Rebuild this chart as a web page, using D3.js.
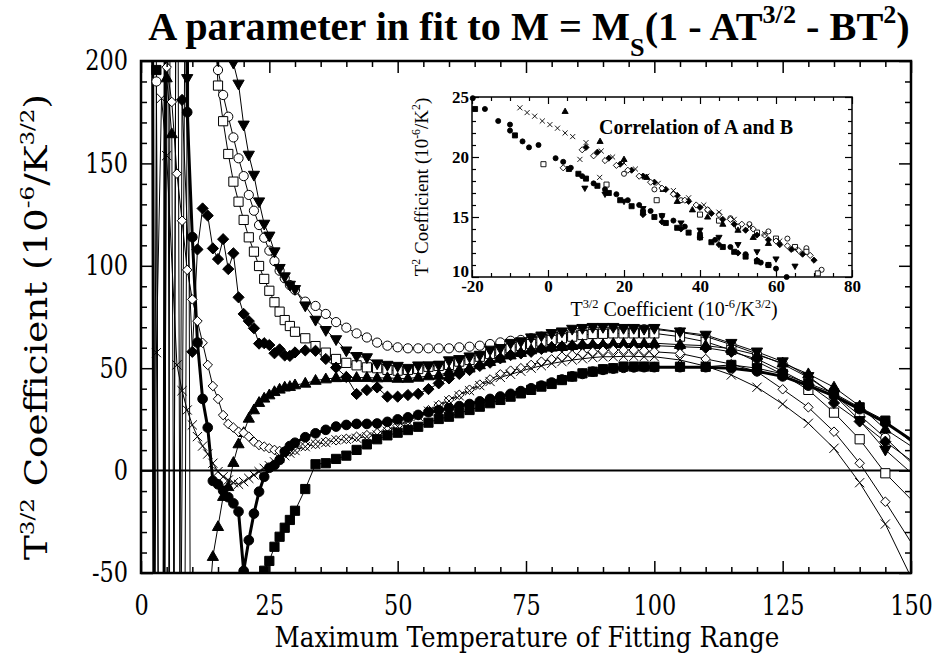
<!DOCTYPE html>
<html>
<head>
<meta charset="utf-8">
<script src="https://cdn.jsdelivr.net/npm/d3@7"></script>
<style>
  body { margin: 0; background: #fff; }
  svg { display: block; }
</style>
</head>
<body>
<svg id="chart" width="936" height="655"></svg>
<script>
// Maximum temperature of the fitting range (K): every 1 K up to 30, every 2 K to 100, every 5 K to 150
const temps = [1,2,3,4,5,6,7,8,9,10,11,12,13,14,15,16,17,18,19,20,21,22,23,24,25,26,27,28,29,30,
  32,34,36,38,40,42,44,46,48,50,52,54,56,58,60,62,64,66,68,70,72,74,76,78,80,82,84,86,88,90,92,94,96,98,100,
  105,110,115,120,125,130,135,140,145,150];

// T^3/2 coefficient A (10^-6 / K^3/2) for each fit series; null = no point
const circlesFilled = [null,500,-600,-700,600,600,600,600,175,114,62.5,35,21,-5,-6.7,-9.8,-13,-16,-20,-49,-34,-21,-10.3,-3,1.4,2.7,5.2,9.2,12,13.6,
  16.3,18.2,19.9,21.5,22.3,22.8,22.8,23,23.8,25,26,27.2,28.5,29.5,30.5,31.5,32.5,33.8,35,36.2,37.5,38.8,40.2,41.5,43,44.5,46,47.2,48.3,49.2,49.8,50.2,50.4,50.5,50.5,
  50.5,50.5,50,48.5,46,41.5,36.5,30,23.5,15];
const squaresFilled = [null,600,195.6,-600,null,null,null,null,null,null,null,null,null,null,null,null,null,null,null,null,null,null,-150,-48.9,-44.1,-37.2,-32.3,-27.9,-24.1,-19.6,
  -9,3.1,3.6,5.7,7.3,10.1,12.8,15.3,17.2,18.5,19.8,21.4,23.4,25.2,26.3,28,29.6,31.2,32.9,34.5,36.1,37.7,39.4,41,42.3,44.2,45.9,47.5,48.3,49.5,50,50.8,50.8,50.8,50.7,
  50.7,50.7,51.6,50,47.2,42.6,37.7,30.9,24.4,14];
const circlesOpen = [null,-400,190,-500,-500,600,null,null,null,null,null,null,null,230,195.6,183.4,172.8,162.7,152.5,143.8,134.6,126.9,119.9,113.7,107.4,102.3,97.6,93.9,90.6,88.2,
  82.5,80.4,76.5,72.5,69.8,67,65,62.5,61,60.2,59.7,59.7,59.7,59.7,59.7,60.2,60.5,61,61.8,62.6,63.4,63.8,64.6,65.4,66.2,67,67.5,68,68.5,68.6,68.8,69,69,69,69,
  67.5,65.5,61.5,57,52,45.5,37,27,16,4];
const squaresOpen = [null,null,null,null,400,-400,400,null,null,null,null,null,null,240,188,170.6,154.6,141.1,131.3,122.4,113.9,106.9,99.9,93.6,87.8,82.2,77.6,73.5,70.6,67.8,
  64.6,60.8,57.6,54.5,52.6,51.4,50.4,50,49.2,48.8,49.2,49.6,50.7,51.1,51.6,53.2,54,55.6,56.9,58.1,59.7,60.9,61.8,63,63.8,64.6,65.4,66.2,66.7,66.8,67,67,67,67,67,
  65.4,62.9,58.9,53.2,47,39.4,28.3,15.3,-1.3,-14];
const trianglesDown = [null,null,null,null,null,-400,400,-400,191.5,500,null,null,null,null,null,null,215,199,188.8,168.8,154.1,144.3,131.3,120.4,114.6,106.9,98.8,94.7,90.6,88.5,
  80.5,73.5,68.5,64,58.5,55.8,55.2,52.2,51.5,51,50,51.2,51.2,51.5,53.7,54.3,55.6,56.4,58.9,59.7,62.2,63,64.9,65.8,67,67.8,69.1,69.5,70,70,70,69.5,69.5,69.1,69.5,
  67.8,66.2,62.2,58,53.2,46,37,24.5,10.1,-1];
const trianglesUp = [null,null,null,400,191.7,164.4,-400,null,400,-400,null,null,-75,-42,-27.4,-12.7,-7.9,3.9,13,18.5,25.5,29.6,33.2,35.3,36.9,38.5,39.7,40.7,41,41.8,
  42.6,44,44.7,45.3,45.4,45.4,45.4,45.2,45.3,45,45,45.5,46.2,46.5,48.3,49.2,50,51.6,53.2,54.8,56.4,57.6,58.9,59.7,60.2,60.5,61,61.5,61.5,61.5,62,62,62,62,62.2,
  61.5,61,59.5,56.5,52.5,47.2,40.7,31.5,20.2,12];
const diamondsFilled = [null,null,null,null,null,null,-400,181,null,58,108,128,124.5,108.5,103.3,113,98.4,106.1,84.6,76.5,73,69.5,62,62.2,61.3,57.3,59.2,56.2,56,57.7,
  58.7,58.5,54.5,50.3,45.7,37.4,39.3,40.6,36.1,36.1,36.9,37.5,39.8,42.6,45,47.2,49.1,51.1,52.7,54.8,56.4,57.2,58,59.4,60.2,60.5,60.8,61,61,61,61,61,61,61,61,
  60.5,60,58,54.5,48.5,42,33,24,14.1,5];
const diamondsOpen = [null,null,null,-400,197,180,145,122,98,83.6,73,62.4,51.6,41.3,35,27.1,22.8,21,19,18.5,16.6,14.1,12.5,11.7,10.9,10.1,9.6,9.6,9.3,10.1,
  12,13,14,14.8,15.5,16.5,17.3,18.3,19.8,22,24.5,27,29.5,32,34.5,37,39.5,42,44.5,47,48.8,50,51.6,53.2,54.3,55.6,56.4,57.2,58,58.5,58.9,58.9,58.9,58.5,58,
  57.2,54.5,52,48.3,39.7,30.9,19,3.6,-15.2,-35];
const crosses = [null,-400,57.6,181.8,153.8,null,51.6,39,29.6,22.3,16.6,12,8.1,3.6,-0.5,-3,-4.6,-5.9,-6.7,-5.4,-3.8,-2.1,-0.5,1.1,2.4,4.3,6,7.3,8.5,9.8,
  11.7,12.9,13.7,15,15.3,15.8,16.6,17.4,19.2,21.5,24,26.5,29,31.5,34,36.5,39,41.5,43.5,45.5,47,48.5,50,51.2,52.3,53.2,54,54.6,55.2,55.6,55.6,55.8,55.8,55.6,55.6,
  54,51,46.7,40.7,32.5,23.1,10.9,-5.9,-26.1,-52];

// Correlation inset: A (T^3/2 coefficient) against B (T^2 coefficient)
const insetCirclesFilledA = [-19.8,-16.6,-13.1,-10,-10,-6.7,-5,-2.5,2,4,6,9,12,15,18,21,24,27,30,33,36,40,44,48,52,56,60,62.8];
const insetCirclesFilledB = [24.9,24,23,22.7,22.2,21.3,20.8,21,19.9,19.6,19.1,18.4,17.8,17.3,16.9,16.4,16,15.5,15.1,14.7,14.2,13.6,13.1,12.5,11.9,11.2,10.7,10];
const insetSquaresFilledA = [-19.2,-8.7,5.5,8,10,13,16,19,22,25,28,31,34,37,40,43,46,49,52,55,58];
const insetSquaresFilledB = [24,21.8,19,18.6,18.2,17.6,17,16.4,15.9,15.4,15,14.5,14.1,13.7,13.3,12.9,12.5,12.1,11.7,11.3,11];
const insetCrossesA = [-7.4,-5.5,-3.5,-1.5,0.5,2.5,4.5,6.5,8.4,10,13.6,14,17,20,23,26,29,33,37,41,45,49,53,57,61,65];
const insetCrossesB = [24.1,23.7,23.4,23,22.7,22.4,22,21.7,19.8,21.2,18.3,20.5,20,19.5,19,18.4,17.8,17.2,16.6,16,15.4,14.8,14.2,13.6,13,12.3];
const insetDiamondsOpenA = [4,9,12,15,18,21,24,27,30,33,36,39,42,45,48,51,54,57,60,63,66,69];
const insetDiamondsOpenB = [19.1,20.6,20.1,19.7,19.3,18.9,18.4,17.9,17.4,16.9,16.4,16,15.6,15.2,14.8,14.4,14,13.5,13,12.6,12.2,11.8];
const insetTrianglesUpA = [4.5,13.7,20,26,30.3,34,38,42,46,50,54,58];
const insetTrianglesUpB = [23.8,21.3,19.8,18.3,17.3,16.3,15.6,15,14.4,13.9,13.3,12.8];
const insetTrianglesDownA = [9.7,15,20,25,30,35,40,45,50,55,60,65];
const insetTrianglesDownB = [17.4,16.9,16.3,15.7,15.1,14.5,13.9,13.3,12.7,12.1,11.5,10.9];
const insetDiamondsFilledA = [10,13,16,19,22,25,28,31,34,37,40,43,46,49,52,55,58,61,64,67,70,25,30,35,40,45,50,55,58];
const insetDiamondsFilledB = [20.8,20.4,19.9,19.4,18.9,18.4,17.9,17.3,16.8,16.3,15.8,15.3,14.8,14.4,13.9,13.5,13.1,12.7,12.3,11.9,11.4,15.2,14.6,14,13.3,12.7,12,11.4,11];
const insetSquaresOpenA = [-1.2,15.4,28.6,40,45,50,55,60,65,68,71];
const insetSquaresOpenB = [19.4,17.7,16.4,15.2,14.7,14.2,13.7,13.2,12.5,12.1,10.3];
const insetCirclesOpenA = [20,28,35,42,48,53,58,63,68,72];
const insetCirclesOpenB = [18.6,17.3,16.4,15.6,14.9,14.4,13.8,13.2,12.4,10.6];

// Tick values
const xTickValues = [0, 25, 50, 75, 100, 125, 150];
const yTickValues = [-50, 0, 50, 100, 150, 200];
const insetXTickValues = [-20, 0, 20, 40, 60, 80];
const insetYTickValues = [10, 15, 20, 25];

// ---------------------------------------------------------------------------
const svg = d3.select('#chart');
const SERIF = "'DejaVu Serif', serif";
const TIMES = "'Liberation Serif', 'Times New Roman', serif";

const plot = { left: 141, right: 911, top: 61, bottom: 573 };
const x = d3.scaleLinear().domain([0, 150]).range([plot.left, plot.right]);
const y = d3.scaleLinear().domain([-50, 200]).range([plot.bottom, plot.top]);

svg.append('rect').attr('width', 936).attr('height', 655).attr('fill', '#fff');

const defs = svg.append('defs');
defs.append('clipPath').attr('id', 'plotClip').append('rect')
  .attr('x', plot.left).attr('y', plot.top)
  .attr('width', plot.right - plot.left).attr('height', plot.bottom - plot.top);

// marker outlines, centred on the origin
function markerPath(kind, s) {
  const p = d3.path();
  if (kind === 'circle') {
    const r = 4.6 * s; p.moveTo(r, 0); p.arc(0, 0, r, 0, 2 * Math.PI);
  } else if (kind === 'square') {
    const h = 4.6 * s; p.rect(-h, -h, 2 * h, 2 * h);
  } else if (kind === 'triUp') {
    p.moveTo(0, -6 * s); p.lineTo(5.6 * s, 3.8 * s); p.lineTo(-5.6 * s, 3.8 * s); p.closePath();
  } else if (kind === 'triDown') {
    p.moveTo(0, 6 * s); p.lineTo(5.6 * s, -3.8 * s); p.lineTo(-5.6 * s, -3.8 * s); p.closePath();
  } else if (kind === 'diamond') {
    const h = 5.6 * s; p.moveTo(0, -h); p.lineTo(h, 0); p.lineTo(0, h); p.lineTo(-h, 0); p.closePath();
  } else if (kind === 'cross') {
    const h = 4.6 * s; p.moveTo(-h, -h); p.lineTo(h, h); p.moveTo(-h, h); p.lineTo(h, -h);
  }
  return p.toString();
}

const series = [
  { values: circlesOpen,    marker: 'circle',  filled: false, width: 1 },
  { values: squaresOpen,    marker: 'square',  filled: false, width: 1 },
  { values: trianglesDown,  marker: 'triDown', filled: true,  width: 1 },
  { values: trianglesUp,    marker: 'triUp',   filled: true,  width: 1 },
  { values: diamondsFilled, marker: 'diamond', filled: true,  width: 1 },
  { values: diamondsOpen,   marker: 'diamond', filled: false, width: 1, scale: 0.85 },
  { values: crosses,        marker: 'cross',   filled: false, width: 1 },
  { values: squaresFilled,  marker: 'square',  filled: true,  width: 1 },
  { values: circlesFilled,  marker: 'circle',  filled: true,  width: 3, scale: 1.05 }
];

const plotG = svg.append('g').attr('clip-path', 'url(#plotClip)');

// zero line
plotG.append('line')
  .attr('x1', x(0)).attr('x2', x(150)).attr('y1', y(0)).attr('y2', y(0))
  .attr('stroke', '#000').attr('stroke-width', 2);

const line = d3.line().x(d => x(d.t)).y(d => y(d.v));
const pts = s => temps.map((t, i) => ({ t, v: s.values[i] })).filter(d => d.v !== null);

series.forEach(s => {
  plotG.append('path').datum(pts(s)).attr('d', line)
    .attr('fill', 'none').attr('stroke', '#000')
    .attr('stroke-width', s.width).attr('stroke-linejoin', 'round');
});

series.forEach(s => {
  const sc = s.scale || 1;
  plotG.append('g').selectAll('path')
    .data(pts(s).filter(d => d.t < 150 && d.v > -60 && d.v < 210))
    .join('path')
    .attr('transform', d => `translate(${x(d.t)},${y(d.v)})`)
    .attr('d', markerPath(s.marker, sc))
    .attr('fill', s.marker === 'cross' ? 'none' : (s.filled ? '#000' : '#fff'))
    .attr('stroke', '#000').attr('stroke-width', 1);
});

// ---- main axes -----------------------------------------------------------
const xMinor = d3.range(0, 151, 5).filter(v => v % 25 !== 0);
const yMinor = d3.range(-50, 201, 10).filter(v => v % 50 !== 0);
const fmt = d => String(d);
const LABEL_SQUEEZE = 0.8;

function styleAxis(g) {
  g.select('.domain').remove();
  g.selectAll('.tick line').attr('stroke', '#000').attr('stroke-width', 1.5);
  g.selectAll('.tick text').attr('fill', '#000').attr('font-family', SERIF).attr('font-size', 28)
    .attr('transform', function () {
      const tx = +this.getAttribute('x') || 0;
      return `translate(${tx},0) scale(${LABEL_SQUEEZE},1) translate(${-tx},0)`;
    });
}
svg.append('g').attr('transform', `translate(0,${plot.bottom})`)
  .call(d3.axisBottom(x).tickValues(xTickValues).tickSize(-12).tickPadding(22).tickFormat(fmt)).call(styleAxis);
svg.append('g').attr('transform', `translate(0,${plot.bottom})`)
  .call(d3.axisBottom(x).tickValues(xMinor).tickSize(-6).tickFormat('')).call(styleAxis);
svg.append('g').attr('transform', `translate(0,${plot.top})`)
  .call(d3.axisTop(x).tickValues(xTickValues).tickSize(-12).tickFormat('')).call(styleAxis);
svg.append('g').attr('transform', `translate(0,${plot.top})`)
  .call(d3.axisTop(x).tickValues(xMinor).tickSize(-6).tickFormat('')).call(styleAxis);
svg.append('g').attr('transform', `translate(${plot.left},0)`)
  .call(d3.axisLeft(y).tickValues(yTickValues).tickSize(-12).tickPadding(13).tickFormat(fmt)).call(styleAxis);
svg.append('g').attr('transform', `translate(${plot.left},0)`)
  .call(d3.axisLeft(y).tickValues(yMinor).tickSize(-6).tickFormat('')).call(styleAxis);
svg.append('g').attr('transform', `translate(${plot.right},0)`)
  .call(d3.axisRight(y).tickValues(yTickValues).tickSize(-12).tickFormat('')).call(styleAxis);
svg.append('g').attr('transform', `translate(${plot.right},0)`)
  .call(d3.axisRight(y).tickValues(yMinor).tickSize(-6).tickFormat('')).call(styleAxis);

svg.append('rect')
  .attr('x', plot.left).attr('y', plot.top)
  .attr('width', plot.right - plot.left).attr('height', plot.bottom - plot.top)
  .attr('fill', 'none').attr('stroke', '#000').attr('stroke-width', 2.5);

// ---- text with super/subscripts ------------------------------------------
function richText(sel, parts, size, small) {
  let shift = 0;
  parts.forEach(p => {
    const target = p.k === 'sup' ? -0.42 * size : p.k === 'sub' ? 0.4 * size : 0;
    sel.append('tspan')
      .attr('dy', target - shift)
      .attr('font-size', p.k ? size * (small || 0.62) : size)
      .text(p.t);
    shift = target;
  });
  return sel;
}
function fitWidth(sel, width) {
  const w = sel.node().getComputedTextLength();
  sel.attr('transform', `scale(${width / w},1)`);
}

// title
const titleG = svg.append('g').attr('transform', 'translate(529,40)');
const title = titleG.append('text').attr('text-anchor', 'middle')
  .attr('font-family', TIMES).attr('font-weight', 'bold').attr('fill', '#000')
  .style('white-space', 'pre');
richText(title, [
  { t: 'A parameter in fit to M = M' }, { t: 'S', k: 'sub' }, { t: '(1 - AT' },
  { t: '3/2', k: 'sup' }, { t: ' - BT' }, { t: '2', k: 'sup' }, { t: ')' }
], 40, 0.65);
fitWidth(title, 762);

// axis titles
const xTitleG = svg.append('g').attr('transform', 'translate(527,647)');
const xTitle = xTitleG.append('text').attr('text-anchor', 'middle')
  .attr('font-family', SERIF).attr('font-size', 27).attr('fill', '#000')
  .text('Maximum Temperature of Fitting Range');
fitWidth(xTitle, 505);

const yTitleG = svg.append('g').attr('transform', 'translate(47,327) rotate(-90)');
const yTitle = yTitleG.append('text').attr('text-anchor', 'middle')
  .attr('font-family', SERIF).attr('fill', '#000').style('white-space', 'pre');
richText(yTitle, [
  { t: 'T' }, { t: '3/2', k: 'sup' }, { t: ' Coefficient (10' }, { t: '-6', k: 'sup' },
  { t: '/K' }, { t: '3/2', k: 'sup' }, { t: ')' }
], 31);
fitWidth(yTitle, 466);

// ---- inset ---------------------------------------------------------------
const inset = { left: 472, right: 852, top: 97, bottom: 277 };
const ix = d3.scaleLinear().domain([-20, 80]).range([inset.left, inset.right]);
const iy = d3.scaleLinear().domain([10, 25]).range([inset.bottom, inset.top]);

defs.append('clipPath').attr('id', 'insetClip').append('rect')
  .attr('x', inset.left - 3).attr('y', inset.top - 3)
  .attr('width', inset.right - inset.left + 6).attr('height', inset.bottom - inset.top + 6);

const insetSeries = [
  { a: insetCirclesOpenA,    b: insetCirclesOpenB,    marker: 'circle',  filled: false },
  { a: insetSquaresOpenA,    b: insetSquaresOpenB,    marker: 'square',  filled: false },
  { a: insetTrianglesDownA,  b: insetTrianglesDownB,  marker: 'triDown', filled: true },
  { a: insetTrianglesUpA,    b: insetTrianglesUpB,    marker: 'triUp',   filled: true },
  { a: insetDiamondsFilledA, b: insetDiamondsFilledB, marker: 'diamond', filled: true },
  { a: insetDiamondsOpenA,   b: insetDiamondsOpenB,   marker: 'diamond', filled: false },
  { a: insetCrossesA,        b: insetCrossesB,        marker: 'cross',   filled: false },
  { a: insetSquaresFilledA,  b: insetSquaresFilledB,  marker: 'square',  filled: true },
  { a: insetCirclesFilledA,  b: insetCirclesFilledB,  marker: 'circle',  filled: true }
];
const insetG = svg.append('g').attr('clip-path', 'url(#insetClip)');
insetSeries.forEach(s => {
  insetG.append('g').selectAll('path')
    .data(s.a.map((a, i) => ({ a, b: s.b[i] })))
    .join('path')
    .attr('transform', d => `translate(${ix(d.a)},${iy(d.b)})`)
    .attr('d', markerPath(s.marker, 0.55))
    .attr('fill', s.marker === 'cross' ? 'none' : (s.filled ? '#000' : '#fff'))
    .attr('stroke', '#000').attr('stroke-width', 0.9);
});

const ixMinor = d3.range(-20, 81, 5).filter(v => v % 20 !== 0);
const iyMinor = d3.range(10, 25.01, 1).filter(v => v % 5 !== 0);
function styleInsetAxis(g) {
  g.select('.domain').remove();
  g.selectAll('.tick line').attr('stroke', '#000').attr('stroke-width', 1.2);
  g.selectAll('.tick text').attr('fill', '#000').attr('font-family', TIMES)
    .attr('font-weight', 'bold').attr('font-size', 17);
}
svg.append('g').attr('transform', `translate(0,${inset.bottom})`)
  .call(d3.axisBottom(ix).tickValues(insetXTickValues).tickSize(-7).tickPadding(3).tickFormat(fmt)).call(styleInsetAxis);
svg.append('g').attr('transform', `translate(0,${inset.bottom})`)
  .call(d3.axisBottom(ix).tickValues(ixMinor).tickSize(-4).tickFormat('')).call(styleInsetAxis);
svg.append('g').attr('transform', `translate(0,${inset.top})`)
  .call(d3.axisTop(ix).tickValues(insetXTickValues).tickSize(-7).tickFormat('')).call(styleInsetAxis);
svg.append('g').attr('transform', `translate(0,${inset.top})`)
  .call(d3.axisTop(ix).tickValues(ixMinor).tickSize(-4).tickFormat('')).call(styleInsetAxis);
svg.append('g').attr('transform', `translate(${inset.left},0)`)
  .call(d3.axisLeft(iy).tickValues(insetYTickValues).tickSize(-7).tickPadding(3).tickFormat(fmt)).call(styleInsetAxis)
  .call(g => g.selectAll('.tick text').filter(d => d === 10).attr('dy', '-0.05em'));
svg.append('g').attr('transform', `translate(${inset.left},0)`)
  .call(d3.axisLeft(iy).tickValues(iyMinor).tickSize(-4).tickFormat('')).call(styleInsetAxis);
svg.append('g').attr('transform', `translate(${inset.right},0)`)
  .call(d3.axisRight(iy).tickValues(insetYTickValues).tickSize(-7).tickFormat('')).call(styleInsetAxis);
svg.append('g').attr('transform', `translate(${inset.right},0)`)
  .call(d3.axisRight(iy).tickValues(iyMinor).tickSize(-4).tickFormat('')).call(styleInsetAxis);

svg.append('rect')
  .attr('x', inset.left).attr('y', inset.top)
  .attr('width', inset.right - inset.left).attr('height', inset.bottom - inset.top)
  .attr('fill', 'none').attr('stroke', '#000').attr('stroke-width', 1.5);

svg.append('text').attr('x', 696).attr('y', 134).attr('text-anchor', 'middle')
  .attr('font-family', TIMES).attr('font-weight', 'bold').attr('font-size', 20).attr('fill', '#000')
  .text('Correlation of A and B');

const ixTitleG = svg.append('g').attr('transform', 'translate(674,316)');
const ixTitle = ixTitleG.append('text').attr('text-anchor', 'middle')
  .attr('font-family', TIMES).attr('fill', '#000').style('white-space', 'pre');
richText(ixTitle, [
  { t: 'T' }, { t: '3/2', k: 'sup' }, { t: ' Coefficient (10' }, { t: '-6', k: 'sup' },
  { t: '/K' }, { t: '3/2', k: 'sup' }, { t: ')' }
], 20);

const iyTitleG = svg.append('g').attr('transform', 'translate(428,187) rotate(-90)');
const iyTitle = iyTitleG.append('text').attr('text-anchor', 'middle')
  .attr('font-family', TIMES).attr('fill', '#000').style('white-space', 'pre');
richText(iyTitle, [
  { t: 'T' }, { t: '2', k: 'sup' }, { t: ' Coefficient (10' }, { t: '-6', k: 'sup' },
  { t: '/K' }, { t: '2', k: 'sup' }, { t: ')' }
], 19);
</script>
</body>
</html>
